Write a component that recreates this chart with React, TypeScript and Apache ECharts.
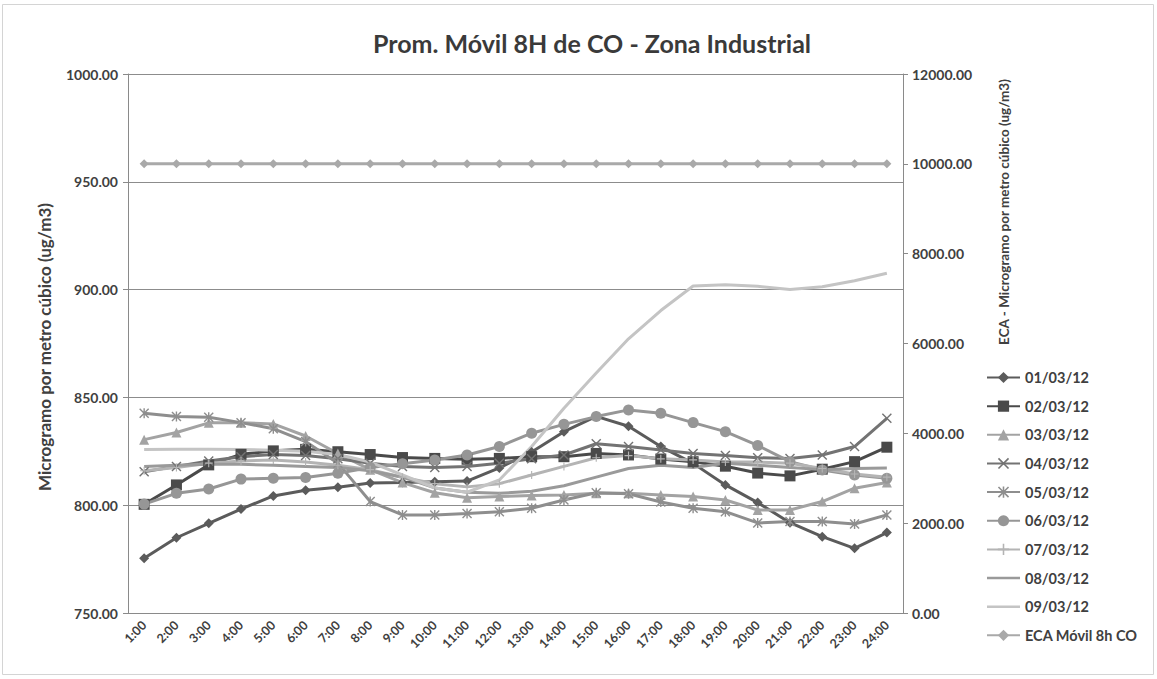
import React, { useEffect, useRef } from "react";
import * as echarts from "echarts";

// Hours of the day (x axis)
const hours = [
  "1:00", "2:00", "3:00", "4:00", "5:00", "6:00", "7:00", "8:00", "9:00", "10:00", "11:00", "12:00",
  "13:00", "14:00", "15:00", "16:00", "17:00", "18:00", "19:00", "20:00", "21:00", "22:00", "23:00", "24:00",
];

// 8-hour moving averages of CO (ug/m3), one array per day
const d0103 = [775.4, 784.9, 791.6, 798.2, 804.3, 806.9, 808.3, 810.3, 810.5, 810.9, 811.2, 817.3, 824.7, 834.1, 841.2, 836.6, 827.2, 819.4, 809.4, 801.2, 791.9, 785.4, 780.0, 787.3];
const d0203 = [800.4, 809.4, 818.7, 823.6, 825.2, 825.9, 824.8, 823.5, 822.1, 821.7, 821.3, 821.7, 822.5, 822.5, 824.0, 823.3, 821.4, 820.2, 818.1, 814.9, 813.6, 816.7, 820.2, 826.9];
const d0303 = [830.4, 833.7, 838.2, 838.3, 837.7, 832.1, 824.0, 816.5, 810.5, 805.8, 803.5, 804.0, 804.5, 804.7, 805.5, 805.5, 804.7, 804.0, 802.4, 797.8, 797.8, 801.7, 807.9, 810.5];
const d0403 = [815.5, 818.0, 820.5, 822.5, 823.5, 823.0, 821.5, 819.5, 818.0, 817.5, 818.0, 819.5, 821.5, 823.3, 828.5, 827.2, 825.6, 824.0, 823.0, 822.0, 821.7, 823.3, 827.2, 840.3];
const d0503 = [842.6, 841.1, 840.8, 838.3, 835.5, 829.5, 819.5, 801.7, 795.5, 795.5, 796.2, 797.0, 798.6, 802.4, 805.8, 805.3, 801.5, 798.6, 797.0, 791.8, 792.4, 792.4, 791.3, 795.5];
const d0603 = [800.5, 805.5, 807.5, 812.1, 812.5, 812.8, 814.8, 817.5, 819.2, 821.0, 823.3, 827.2, 833.4, 837.5, 841.1, 844.2, 842.6, 838.3, 834.1, 827.7, 820.2, 816.3, 814.0, 812.5];
const d0703 = [816.0, 817.5, 819.5, 820.5, 821.0, 820.0, 818.5, 816.5, 813.0, 810.0, 808.5, 810.0, 814.0, 818.0, 822.0, 823.0, 821.5, 821.0, 820.0, 820.0, 819.5, 817.0, 814.5, 813.0];
const d0803 = [818.0, 818.5, 819.0, 819.0, 818.5, 818.0, 817.5, 816.0, 813.0, 808.0, 806.0, 805.5, 806.5, 809.0, 813.0, 817.0, 818.5, 817.5, 819.5, 818.5, 817.5, 816.5, 817.0, 817.2];
const d0903 = [825.8, 826.0, 826.0, 825.8, 825.5, 825.0, 823.5, 820.0, 814.0, 808.0, 806.0, 811.7, 827.2, 845.0, 861.3, 877.2, 890.3, 901.7, 902.3, 901.5, 900.1, 901.3, 904.1, 907.6];

// ECA limit for 8-hour CO, plotted on the secondary axis
const ecaMovil8h = [10000, 10000, 10000, 10000, 10000, 10000, 10000, 10000, 10000, 10000, 10000, 10000, 10000, 10000, 10000, 10000, 10000, 10000, 10000, 10000, 10000, 10000, 10000, 10000];

// Axis ranges
const leftMin = 750;
const leftMax = 1000;
const leftStep = 50;
const rightMin = 0;
const rightMax = 12000;
const rightStep = 2000;

const FONT = "Lato, 'Open Sans', sans-serif";
const TEXT = "#404040";

// Marker outlines
const xMark = "path://M0,1L1,0L5,4L9,0L10,1L6,5L10,9L9,10L5,6L1,10L0,9L4,5Z";
const starMark = "path://M0,1L1,0L5,4L9,0L10,1L6,5L10,9L9,10L5,6L1,10L0,9L4,5ZM4.3,0H5.7V10H4.3Z";
const plusMark = "path://M4.3,0H5.7V4.3H10V5.7H5.7V10H4.3V5.7H0V4.3H4.3Z";
// Plain line used as legend key for series drawn without markers
const lineKey = "path://M0,0H40V3H0Z";

type Spec = { name: string; data: number[]; color: string; symbol: string; size: number; axis: number };

const specs: Spec[] = [
  { name: "01/03/12", data: d0103, color: "#5b5b5b", symbol: "diamond", size: 10, axis: 0 },
  { name: "02/03/12", data: d0203, color: "#4a4a4a", symbol: "rect", size: 11, axis: 0 },
  { name: "03/03/12", data: d0303, color: "#a3a3a3", symbol: "triangle", size: 10, axis: 0 },
  { name: "04/03/12", data: d0403, color: "#737373", symbol: xMark, size: 10, axis: 0 },
  { name: "05/03/12", data: d0503, color: "#8e8e8e", symbol: starMark, size: 10, axis: 0 },
  { name: "06/03/12", data: d0603, color: "#969696", symbol: "circle", size: 11, axis: 0 },
  { name: "07/03/12", data: d0703, color: "#b4b4b4", symbol: plusMark, size: 8, axis: 0 },
  { name: "08/03/12", data: d0803, color: "#9a9a9a", symbol: "none", size: 0, axis: 0 },
  { name: "09/03/12", data: d0903, color: "#c4c4c4", symbol: "none", size: 0, axis: 0 },
  { name: "ECA Móvil 8h CO", data: ecaMovil8h, color: "#a9a9a9", symbol: "diamond", size: 9, axis: 1 },
];

export default function App() {
  const ref = useRef<HTMLDivElement>(null);

  useEffect(() => {
    if (!ref.current) return;
    const chart = echarts.init(ref.current, null, { renderer: "svg" });

    const fmt = (v: number) => v.toFixed(2);

    chart.setOption({
      animation: false,
      backgroundColor: "#ffffff",
      textStyle: { fontFamily: FONT },
      title: {
        text: "Prom. Móvil 8H de CO - Zona Industrial",
        left: 587,
        top: 25,
        textAlign: "center",
        textStyle: { fontFamily: FONT, fontSize: 25, fontWeight: "bold", color: "#3a3a3a" },
      },
      grid: { left: 128, right: 254, top: 74, bottom: 66, containLabel: false },
      legend: {
        orient: "vertical",
        left: 981,
        top: 365,
        itemWidth: 33,
        itemHeight: 14,
        itemGap: 13.65,
        symbolKeepAspect: true,
        textStyle: { fontFamily: FONT, fontSize: 14.5, lineHeight: 14, fontWeight: "bold", color: TEXT },
        data: specs.map((s) => (s.symbol === "none" ? { name: s.name, icon: lineKey } : { name: s.name })),
      },
      xAxis: {
        type: "category",
        data: hours,
        boundaryGap: true,
        axisLine: { lineStyle: { color: "#8a8a8a", width: 1 } },
        axisTick: { show: false },
        axisLabel: {
          rotate: 45,
          interval: 0,
          margin: 10,
          fontFamily: FONT,
          fontSize: 12.5,
          fontWeight: "bold",
          color: TEXT,
        },
      },
      yAxis: [
        {
          type: "value",
          min: leftMin,
          max: leftMax,
          interval: leftStep,
          axisLine: { show: true, lineStyle: { color: "#8a8a8a" } },
          axisTick: { show: true, length: 5, lineStyle: { color: "#8a8a8a" } },
          splitLine: { show: true, lineStyle: { color: "#8c8c8c", width: 1.2 } },
          axisLabel: { formatter: fmt, margin: 10, fontFamily: FONT, fontSize: 14, fontWeight: "bold", color: TEXT },
        },
        {
          type: "value",
          position: "right",
          min: rightMin,
          max: rightMax,
          interval: rightStep,
          axisLine: { show: true, lineStyle: { color: "#8a8a8a" } },
          axisTick: { show: true, length: 5, lineStyle: { color: "#8a8a8a" } },
          splitLine: { show: false },
          axisLabel: { formatter: fmt, margin: 9, fontFamily: FONT, fontSize: 14, fontWeight: "bold", color: TEXT },
        },
      ],
      graphic: [
        {
          type: "rect",
          shape: { x: 2.5, y: 4.5, width: 1151, height: 670 },
          style: { fill: "none", stroke: "#d4d4d4", lineWidth: 1 },
          silent: true,
        },
        {
          type: "text",
          x: 44,
          y: 347,
          rotation: Math.PI / 2,
          style: {
            text: "Microgramo por metro cúbico (ug/m3)",
            font: `bold 17px ${FONT}`,
            fill: TEXT,
            align: "center",
            verticalAlign: "middle",
          },
        },
        {
          type: "text",
          x: 1004,
          y: 212,
          rotation: Math.PI / 2,
          style: {
            text: "ECA - Microgramo por metro cúbico (ug/m3)",
            font: `bold 13.5px ${FONT}`,
            fill: TEXT,
            align: "center",
            verticalAlign: "middle",
          },
        },
      ],
      series: specs.map((s) => ({
        name: s.name,
        type: "line",
        data: s.data,
        yAxisIndex: s.axis,
        symbol: s.symbol,
        symbolSize: s.size,
        showAllSymbol: true,
        lineStyle: { color: s.color, width: 3 },
        itemStyle: { color: s.color },
        emphasis: { disabled: true },
      })),
    });

    return () => chart.dispose();
  }, []);

  return (
    <div
      ref={ref}
      style={{ position: "fixed", left: 0, top: 0, width: 1157, height: 679, background: "#fff" }}
    />
  );
}
